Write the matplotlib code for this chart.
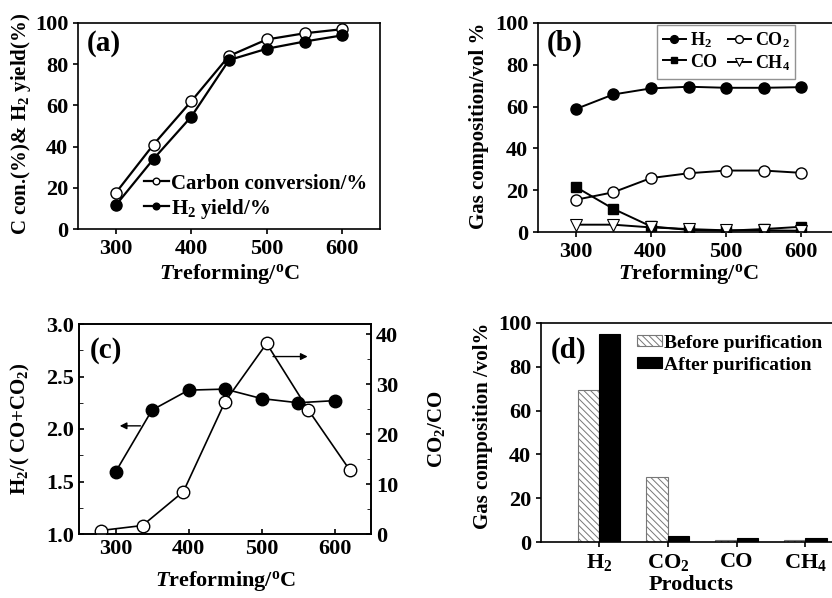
import matplotlib
matplotlib.use('Agg')
import matplotlib.pyplot as plt
import numpy as np

plt.rcParams['font.family'] = ['Liberation Serif', 'DejaVu Serif']
plt.rcParams['font.weight'] = 'bold'
plt.rcParams['axes.labelweight'] = 'bold'
plt.rcParams['mathtext.fontset'] = 'custom'
plt.rcParams['mathtext.rm'] = 'Liberation Serif:bold'
plt.rcParams['mathtext.bf'] = 'Liberation Serif:bold'
plt.rcParams['mathtext.it'] = 'Liberation Serif:italic:bold'
plt.rcParams['axes.linewidth'] = 1.2
plt.rcParams['hatch.linewidth'] = 0.7

# panel (a)
temps = [300, 350, 400, 450, 500, 550, 600]
carbon_conv = [17.5, 41, 62, 84, 92, 95, 97]
h2_yield = [11.5, 34, 54.5, 82, 87.5, 91, 94]

# panel (b)
gas_h2 = [58.8, 65.8, 68.7, 69.5, 69.0, 69.0, 69.3]
gas_co2 = [15.4, 19.0, 25.8, 28.1, 29.4, 29.4, 28.3]
gas_co = [21.6, 11.1, 2.7, 1.0, 0.6, 1.4, 2.5]
gas_ch4 = [3.5, 3.5, 2.2, 1.4, 0.8, 0.8, 0.6]

# panel (c)
h2_ratio = [1.59, 2.18, 2.37, 2.38, 2.29, 2.25, 2.27]
ratio_temps = [280, 337, 393, 450, 507, 564, 621]
co2_co = [0.7, 1.7, 8.5, 26.5, 38.2, 24.9, 12.8]

# panel (d)
products = ['H$_2$', 'CO$_2$', 'CO', 'CH$_4$']
before = [69.3, 29.5, 1.0, 1.0]
after = [95.0, 2.7, 1.8, 1.7]

W, H = 832, 598
fig = plt.figure(figsize=(W / 100, H / 100), dpi=100)


def box(l, t, r, b):
    return [l / W, 1 - b / H, (r - l) / W, (b - t) / H]


xlab = r'$\mathit{T}$reforming/$^{\rm o}$C'
tfs = 16

# ---- (a)
ax = fig.add_axes(box(78, 23, 380, 229))
ax.plot(temps, carbon_conv, '-o', color='k', mfc='white', mec='k', ms=8, lw=1.6,
        label='Carbon conversion/%')
ax.plot(temps, h2_yield, '-o', color='k', mfc='k', ms=8, lw=1.6,
        label='H$_2$ yield/%')
ax.set_xlim(250, 650)
ax.set_ylim(0, 100)
ax.set_xticks([300, 400, 500, 600])
ax.set_yticks(range(0, 101, 20))
ax.tick_params(labelsize=tfs, direction='out', width=1.2)
ax.set_xlabel(xlab, fontsize=tfs, labelpad=2)
ax.set_ylabel('C con.(%)& H$_2$ yield(%)', fontsize=15)
ax.yaxis.set_label_coords(-0.15, 0.51)
ax.text(0.03, 0.90, '(a)', transform=ax.transAxes, fontsize=21, va='center')
ax.legend(loc='lower left', bbox_to_anchor=(0.19, 0.0), frameon=False, fontsize=15,
          handlelength=1.2, handletextpad=0.1, markerscale=0.6, labelspacing=0.15,
          borderaxespad=0.0)

# ---- (b)
ax = fig.add_axes(box(538, 23, 839, 232))
ax.plot(temps, gas_h2, '-o', color='k', mfc='k', ms=8, lw=1.4, label='H$_2$')
ax.plot(temps, gas_co, '-s', color='k', mfc='k', ms=7, lw=1.4, label='CO')
ax.plot(temps, gas_co2, '-o', color='k', mfc='white', ms=8, lw=1.4, label='CO$_2$')
ax.plot(temps, gas_ch4, '-v', color='k', mfc='white', ms=8, lw=1.4, mew=0.8, label='CH$_4$')
ax.set_xlim(250, 650)
ax.set_ylim(0, 100)
ax.set_xticks([300, 400, 500, 600])
ax.set_yticks(range(0, 101, 20))
ax.tick_params(labelsize=tfs, direction='out', width=1.2)
ax.set_xlabel(xlab, fontsize=tfs, labelpad=0)
ax.set_ylabel('Gas composition/vol %', fontsize=15)
ax.yaxis.set_label_coords(-0.163, 0.51)
ax.text(0.03, 0.905, '(b)', transform=ax.transAxes, fontsize=21, va='center')
leg = ax.legend(loc='upper left', bbox_to_anchor=(0.39, 1.0), ncol=2, fontsize=13,
                handlelength=1.3, handletextpad=0.2, columnspacing=0.6, markerscale=0.7,
                labelspacing=0.2, borderpad=0.3, fancybox=False, borderaxespad=0.1)
leg.get_frame().set_edgecolor('#777777')
leg.get_frame().set_linewidth(1.0)

# ---- (c)
ax = fig.add_axes(box(79, 324, 371, 534))
ax.plot(temps, h2_ratio, '-o', color='k', mfc='k', ms=9, lw=1.2)
ax.set_xlim(250, 650)
ax.set_ylim(1.0, 3.0)
ax.set_xticks([300, 400, 500, 600])
ax.set_yticks([1.0, 1.5, 2.0, 2.5, 3.0])
ax.set_yticks(np.arange(1.0, 3.0, 0.25), minor=True)
ax.tick_params(labelsize=tfs, direction='in', width=1.2)
ax.tick_params(which='minor', direction='in', length=3)
ax.set_xlabel(xlab, fontsize=tfs, labelpad=7)
ax.set_ylabel('H$_2$/( CO+CO$_2$)', fontsize=15)
ax.yaxis.set_label_coords(-0.16, 0.5)
ax.text(0.038, 0.876, '(c)', transform=ax.transAxes, fontsize=21, va='center')
ax.annotate('', xy=(302, 2.03), xytext=(338, 2.03),
            arrowprops=dict(arrowstyle='-|>', color='k', lw=1.0, mutation_scale=10))
ax.annotate('', xy=(567, 2.69), xytext=(512, 2.69),
            arrowprops=dict(arrowstyle='-|>', color='k', lw=1.0, mutation_scale=10))
ax2 = ax.twinx()
ax2.plot(ratio_temps, co2_co, '-o', color='k', mfc='white', ms=9, lw=1.2)
ax2.set_ylim(0, 42.1)
ax2.set_yticks([0, 10, 20, 30, 40])
ax2.set_yticks(np.arange(0, 42, 5), minor=True)
ax2.tick_params(labelsize=tfs, direction='in', width=1.2)
ax2.tick_params(which='minor', direction='in', length=3)
ax2.set_ylabel('CO$_2$/CO', fontsize=15)
ax2.yaxis.set_label_coords(1.19, 0.5)

# ---- (d)
ax = fig.add_axes(box(541, 323, 841, 542))
x = np.arange(len(products))
bw = 0.31
ax.bar(x - bw / 2, before, bw, color='white', edgecolor='#777777', hatch='\\\\\\\\\\',
       lw=0.8, label='Before purification')
ax.bar(x + bw / 2, after, bw, color='k', edgecolor='k', lw=0.8, label='After purification')
ax.set_xlim(-0.845, 3.52)
ax.set_ylim(0, 100)
ax.set_xticks(x)
ax.set_xticklabels(products)
ax.set_yticks(range(0, 101, 20))
ax.tick_params(labelsize=tfs, direction='out', width=1.2)
ax.set_xlabel('Products', fontsize=tfs, labelpad=2)
ax.set_ylabel('Gas composition /vol%', fontsize=15)
ax.yaxis.set_label_coords(-0.16, 0.53)
ax.text(0.033, 0.877, '(d)', transform=ax.transAxes, fontsize=21, va='center')
ax.legend(loc='upper left', bbox_to_anchor=(0.28, 1.0), frameon=False, fontsize=14,
          handlelength=1.3, handleheight=0.5, handletextpad=0.1, labelspacing=0.25,
          borderaxespad=0.2)

fig.savefig('out.png', dpi=100)
